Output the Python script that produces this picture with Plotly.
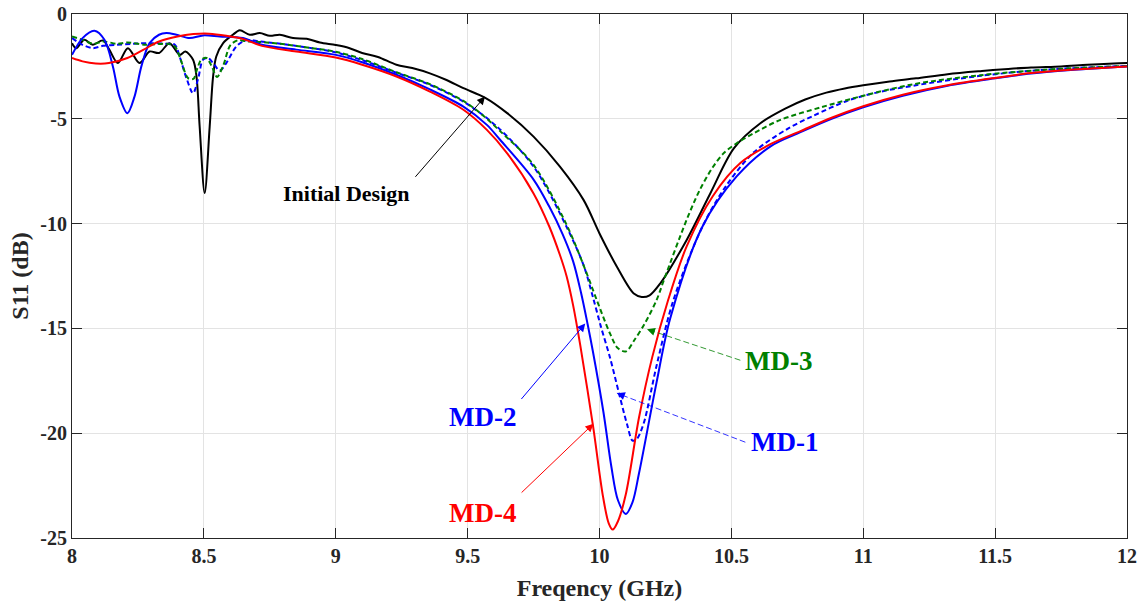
import plotly.graph_objects as go

# ---------------- data ----------------
init_x = [8.0, 8.016, 8.047, 8.079, 8.117, 8.142, 8.174, 8.212, 8.256, 8.294, 8.33, 8.37,
          8.408, 8.43, 8.459, 8.472, 8.484, 8.503, 8.522, 8.535, 8.547, 8.573, 8.61, 8.636,
          8.674, 8.712, 8.75, 8.788, 8.838, 8.89, 8.94, 9.0, 9.05, 9.10, 9.16, 9.23, 9.29,
          9.357, 9.42, 9.484, 9.567, 9.65, 9.75, 9.85, 9.94, 10.0, 10.066, 10.13, 10.16,
          10.19, 10.23, 10.33, 10.42, 10.51, 10.61, 10.71, 10.78, 10.86, 10.93, 11.0, 11.1, 11.2,
          11.32, 11.45, 11.55, 11.636, 11.75, 11.85, 11.95, 12.0]
init_y = [-1.39, -1.63, -1.23, -1.47, -1.26, -1.71, -2.34, -1.63, -2.34, -1.79, -1.86, -1.39,
          -1.95, -1.79, -2.18, -2.98, -5.37, -8.54, -5.37, -2.98, -2.03, -1.39, -0.99, -0.78,
          -0.99, -0.91, -1.04, -0.99, -1.15, -1.18, -1.36, -1.48, -1.62, -1.86, -2.05, -2.42, -2.58,
          -2.83, -3.15, -3.54, -4.0, -4.73, -5.85, -7.28, -8.88, -10.47, -12.06, -13.34, -13.5,
          -13.42, -12.86, -10.79, -8.56, -6.4, -5.21, -4.48, -4.08, -3.75, -3.55, -3.4, -3.22, -3.07,
          -2.87, -2.72, -2.62, -2.55, -2.5, -2.42, -2.36, -2.34]

md1_x = [8.0, 8.04, 8.079, 8.117, 8.168, 8.23, 8.29, 8.358, 8.39, 8.408, 8.434, 8.459, 8.478,
         8.497, 8.516, 8.535, 8.56, 8.585, 8.623, 8.66, 8.712, 8.79, 8.91, 9.0, 9.1, 9.23,
         9.357, 9.484, 9.61, 9.75, 9.875, 9.94, 9.975, 10.005, 10.04, 10.076, 10.105, 10.125,
         10.14, 10.167, 10.216, 10.28, 10.39, 10.48, 10.585, 10.71, 10.81, 10.94, 11.05, 11.2,
         11.445, 11.7, 12.0]
md1_y = [-1.15, -1.47, -1.63, -1.52, -1.47, -1.42, -1.39, -1.42, -1.47, -2.03, -3.06, -3.78, -3.1,
         -2.18, -2.1, -2.34, -2.7, -2.34, -1.55, -1.25, -1.31, -1.42, -1.63, -1.83, -2.2, -2.8,
         -3.38, -4.18, -5.36, -7.28, -10.15, -12.0, -13.5, -14.9, -16.4, -18.2, -19.6, -20.35,
         -20.3, -19.55, -16.8, -13.66, -10.15, -8.2, -6.6, -5.5, -4.86, -4.14, -3.75, -3.4,
         -2.95, -2.65, -2.48]

md2_x = [8.0, 8.04, 8.085, 8.123, 8.155, 8.18, 8.21, 8.237, 8.263, 8.294, 8.33, 8.358, 8.396,
         8.446, 8.497, 8.56, 8.648, 8.72, 8.85, 9.0, 9.1, 9.23, 9.357, 9.484, 9.573, 9.623,
         9.75, 9.81, 9.86, 9.90, 9.93, 9.955, 9.975, 10.015, 10.045, 10.07, 10.1, 10.125, 10.15,
         10.216, 10.268, 10.39, 10.52, 10.65, 10.76, 10.88, 11.0, 11.15, 11.32, 11.5, 11.636,
         11.8, 12.0]
md2_y = [-1.95, -1.15, -0.8, -1.23, -2.5, -3.94, -4.73, -3.94, -2.5, -1.39, -0.99, -0.91, -0.99,
         -1.15, -1.02, -1.07, -1.15, -1.47, -1.7, -1.95, -2.3, -2.9, -3.6, -4.42, -5.29, -6.0,
         -7.9, -9.2, -10.5, -11.8, -13.3, -14.8, -16.1, -19.0, -21.6, -23.2, -23.85, -23.3, -21.9,
         -17.6, -14.53, -10.15, -7.75, -6.3, -5.65, -5.0, -4.45, -3.9, -3.42, -3.07, -2.84,
         -2.66, -2.5]

md3_x = [8.0, 8.04, 8.08, 8.12, 8.17, 8.21, 8.28, 8.36, 8.39, 8.41, 8.44, 8.46, 8.475, 8.49,
         8.51, 8.53, 8.55, 8.575, 8.60, 8.63, 8.66, 8.71, 8.79, 8.91, 9.0, 9.1, 9.23, 9.357,
         9.484, 9.55, 9.62, 9.75, 9.875, 9.94, 9.99, 10.04, 10.07, 10.1, 10.13, 10.17, 10.216,
         10.244, 10.33, 10.38, 10.43, 10.47, 10.52, 10.585, 10.686, 10.84, 11.0, 11.19, 11.445,
         11.7, 12.0]
md3_y = [-1.07, -1.23, -1.42, -1.31, -1.42, -1.36, -1.47, -1.42, -1.55, -2.1, -3.06, -3.1, -2.6, -2.18,
         -2.1, -2.5, -3.0, -2.4, -1.5, -1.25, -1.3, -1.33, -1.42, -1.63, -1.8, -2.15, -2.78, -3.35,
         -4.15, -4.75, -5.55, -7.2, -10.05, -12.0, -13.66, -15.25, -15.95, -16.1, -15.6, -14.8, -13.66,
         -12.7, -9.83, -8.4, -7.3, -6.65, -6.17, -5.69, -5.05, -4.45, -3.9, -3.35, -2.92,
         -2.65, -2.48]

md4_x = [8.0, 8.04, 8.09, 8.14, 8.21, 8.27, 8.33, 8.40, 8.46, 8.52, 8.585, 8.65, 8.72, 8.85,
         9.0, 9.10, 9.23, 9.357, 9.484, 9.573, 9.65, 9.75, 9.81, 9.85, 9.875, 9.90, 9.927, 9.976,
         10.013, 10.035, 10.05, 10.07, 10.1, 10.15, 10.2, 10.26, 10.33, 10.43, 10.535, 10.65,
         10.76, 10.88, 11.0, 11.15, 11.32, 11.5, 11.636, 11.8, 12.0]
md4_y = [-2.1, -2.26, -2.36, -2.34, -2.1, -1.71, -1.31, -1.07, -0.96, -0.94, -1.04, -1.2, -1.52, -1.79,
         -2.08, -2.42, -2.98, -3.70, -4.57, -5.53, -6.65, -8.56, -10.15, -11.5, -12.5, -13.9, -15.8, -19.7,
         -23.0, -24.3, -24.6, -24.2, -22.9, -19.24, -16.37, -13.66, -11.1, -8.68, -7.1, -6.2,
         -5.6, -4.95, -4.4, -3.85, -3.4, -3.05, -2.82, -2.65, -2.5]

x_ticks = [8, 8.5, 9, 9.5, 10, 10.5, 11, 11.5, 12]
x_ticktext = ["8", "8.5", "9", "9.5", "10", "10.5", "11", "11.5", "12"]
y_ticks = [0, -5, -10, -15, -20, -25]
y_ticktext = ["0", "-5", "-10", "-15", "-20", "-25"]

# ---------------- figure ----------------
FONT = "Liberation Serif"
fig = go.Figure()

series = [
    ("Initial Design", init_x, init_y, "#000000", "solid"),
    ("MD-1", md1_x, md1_y, "#0000FF", "5px,3px"),
    ("MD-3", md3_x, md3_y, "#008000", "5px,3px"),
    ("MD-2", md2_x, md2_y, "#0000FF", "solid"),
    ("MD-4", md4_x, md4_y, "#FF0000", "solid"),
]
for name, xs, ys, col, dash in series:
    fig.add_trace(go.Scatter(x=xs, y=ys, mode="lines", name=name,
                             line=dict(color=col, width=2, dash=dash,
                                       shape="spline", smoothing=0.9)))

# labels with arrows: (text, text_x, text_y, anchor, colour, size, tail_x, tail_y, head_x, head_y, dashed)
labels = [
    ("Initial Design", 9.042, -8.54, "center", "#000000", 22, 9.297, -7.84, 9.566, -3.94, False),
    ("MD-2", 9.69, -19.25, "right", "#0000FF", 27, 9.699, -18.44, 9.946, -14.77, False),
    ("MD-4", 9.69, -23.8, "right", "#FF0000", 27, 9.699, -22.9, 9.977, -19.55, False),
    ("MD-3", 10.545, -16.55, "left", "#008000", 27, 10.534, -16.52, 10.18, -15.04, True),
    ("MD-1", 10.565, -20.4, "left", "#0000FF", 27, 10.553, -20.43, 10.066, -18.09, True),
]
for text, tx, ty, anc, col, size, ax_, ay_, hx, hy, dashed in labels:
    fig.add_annotation(x=tx, y=ty, xref="x", yref="y", text="<b>%s</b>" % text,
                       showarrow=False, xanchor=anc, yanchor="middle",
                       font=dict(family=FONT, size=size, color=col))
    if dashed:
        fig.add_shape(type="line", xref="x", yref="y", x0=ax_, y0=ay_, x1=hx, y1=hy,
                      line=dict(color=col, width=0.8, dash="6px,3px"))
        sx = hx + (ax_ - hx) * 0.06
        sy = hy + (ay_ - hy) * 0.06
        fig.add_annotation(x=hx, y=hy, ax=sx, ay=sy, xref="x", yref="y", axref="x", ayref="y",
                           text="", showarrow=True, arrowhead=2, arrowsize=1.6,
                           arrowwidth=1, arrowcolor=col)
    else:
        fig.add_annotation(x=hx, y=hy, ax=ax_, ay=ay_, xref="x", yref="y", axref="x", ayref="y",
                           text="", showarrow=True, arrowhead=2, arrowsize=1.6,
                           arrowwidth=1, arrowcolor=col)

axis_common = dict(showline=True, mirror="ticks", linecolor="#262626", linewidth=1,
                   ticks="inside", ticklen=10, tickwidth=1, tickcolor="#262626",
                   showgrid=True, gridcolor="#e3e3e3", gridwidth=1, zeroline=False,
                   automargin=False,
                   tickfont=dict(family=FONT, size=20, color="#262626", weight="bold"))

fig.update_xaxes(range=[8, 12], tickvals=x_ticks, ticktext=x_ticktext,
                 title=dict(text="Freqency (GHz)", standoff=13,
                            font=dict(family=FONT, size=24, color="#262626", weight="bold")),
                 **axis_common)
fig.update_yaxes(range=[-25, 0], tickvals=y_ticks, ticktext=y_ticktext,
                 title=dict(text="S11 (dB)", standoff=4,
                            font=dict(family=FONT, size=24, color="#262626", weight="bold")),
                 **axis_common)

fig.update_layout(width=1146, height=605, showlegend=False,
                  paper_bgcolor="white", plot_bgcolor="white",
                  margin=dict(l=72, r=19, t=14, b=67))

fig.write_html("out.html", config={"displayModeBar": False},
               post_script="document.body.style.margin='0px';document.body.style.overflow='hidden';")
